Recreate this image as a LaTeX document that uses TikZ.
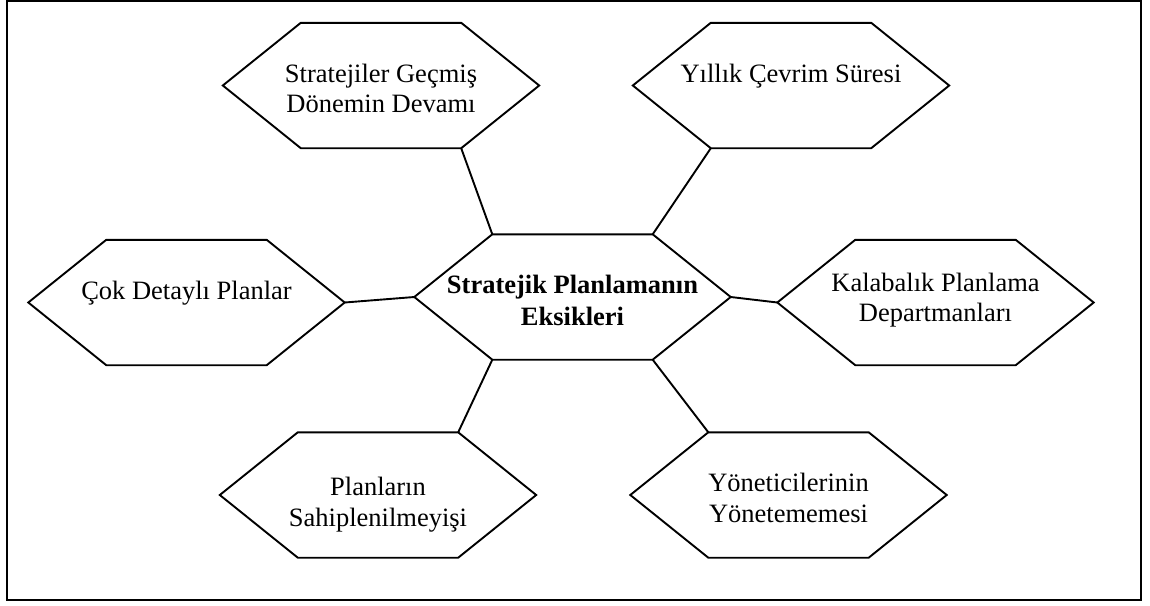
\documentclass[tikz,border=0pt]{standalone}
\usepackage{fontspec}
\setmainfont{Liberation Serif}
\usetikzlibrary{calc}
\begin{document}
\begin{tikzpicture}[x=1pt,y=-1pt,
  hexbox/.style={rectangle, minimum width=316pt, minimum height=125pt,
    inner sep=0pt, text width=300pt, align=flush center,
    font=\fontsize{26.5}{30.5}\selectfont,
    text height=20pt, text depth=27pt},
  hexline/.style={line width=1.9pt, line join=miter},
  link/.style={line width=1.9pt},
]
\useasboundingbox (0,0) rectangle (1150,605);
\draw[line width=1.9pt] (7,1) rectangle (1141,600);

% hexagon boxes
\node[hexbox] (a) at (381,85.5) {Stratejiler Geçmiş\\Dönemin Devamı};
\node[hexbox] (b) at (791,85.5) {Yıllık Çevrim Süresi};
\node[hexbox] (c) at (186.5,302.5) {Çok Detaylı Planlar};
\node[hexbox, text depth=43pt] (d) at (935.5,302.5) {Kalabalık Planlama\\Departmanları};
\node[hexbox, font=\fontsize{26.5}{31.5}\selectfont\bfseries] (m) at (572.5,297) {Stratejik Planlamanın\\Eksikleri};
\node[hexbox, text depth=19pt] (e) at (378,495) {Planların\\Sahiplenilmeyişi};
\node[hexbox] (f) at (788.5,495) {Yöneticilerinin\\Yönetememesi};

% hexagon outlines around each box
\foreach \n in {a,b,c,d,m,e,f}{
  \draw[hexline] ($(\n.north west)+(78,0)$) -- ($(\n.north east)-(78,0)$)
    -- (\n.east) -- ($(\n.south east)-(78,0)$)
    -- ($(\n.south west)+(78,0)$) -- (\n.west) -- cycle;
}

% spokes from the centre hexagon
\draw[link] ($(a.south east)-(78,0)$) -- ($(m.north west)+(78,0)$);
\draw[link] ($(b.south west)+(78,0)$) -- ($(m.north east)-(78,0)$);
\draw[link] (c.east) -- (m.west);
\draw[link] (d.west) -- (m.east);
\draw[link] ($(e.north east)-(78,0)$) -- ($(m.south west)+(78,0)$);
\draw[link] ($(f.north west)+(78,0)$) -- ($(m.south east)-(78,0)$);
\end{tikzpicture}
\end{document}
